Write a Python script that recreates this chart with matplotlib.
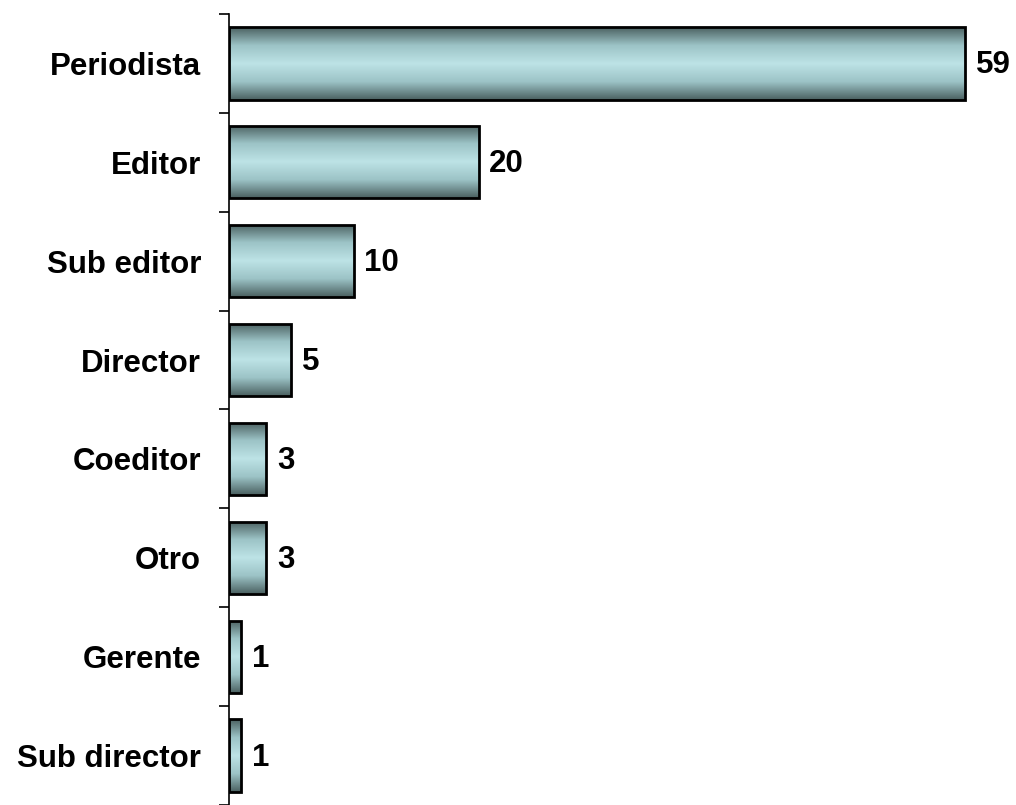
import numpy as np
import matplotlib.pyplot as plt
from matplotlib.colors import LinearSegmentedColormap
from matplotlib.patches import Rectangle

categories = ['Periodista', 'Editor', 'Sub editor', 'Director',
              'Coeditor', 'Otro', 'Gerente', 'Sub director']
values = [59, 20, 10, 5, 3, 3, 1, 1]

plt.rcParams['font.family'] = ['Liberation Sans', 'DejaVu Sans']

fig = plt.figure(figsize=(10.16, 8.05), dpi=100)
ax = fig.add_axes([229 / 1016, 0.0, 1 - 229 / 1016 - 0.013, 1 - 14 / 805])

n = len(categories)
ypos = np.arange(n)
bar_h = 0.73

# dark edge -> light middle -> dark edge
cmap = LinearSegmentedColormap.from_list(
    'shade', ['#4a6060', '#9cc3c6', '#bde3e6', '#9cc3c6', '#4a6060'])
grad = np.linspace(0, 1, 256).reshape(-1, 1)

bars = ax.barh(ypos, values, height=bar_h, color='none',
               edgecolor='black', linewidth=2, zorder=3)
for bar in bars:
    x0, y0 = bar.get_x(), bar.get_y()
    w, h = bar.get_width(), bar.get_height()
    im = ax.imshow(grad, cmap=cmap, aspect='auto',
                   extent=(x0, x0 + w, y0 + h, y0), zorder=2)
    clip = Rectangle((x0, y0), w, h, transform=ax.transData)
    im.set_clip_path(clip)

for y, v in zip(ypos, values):
    ax.text(v + 0.85, y + 0.02, str(v), va='center', ha='left',
            fontsize=22.5, fontweight='bold')

ax.set_xlim(0, 62)
ax.set_ylim(n - 0.5, -0.5)

ax.set_yticks(np.arange(-0.5, n, 1.0))
ax.set_yticklabels([])
ax.set_yticks(ypos, minor=True)
ax.set_yticklabels(categories, minor=True, fontsize=22.5, fontweight='bold')
ax.tick_params(axis='y', which='minor', length=0, pad=20)
ax.tick_params(axis='y', which='major', length=7, width=1.2, direction='out')

for side in ['top', 'right', 'bottom']:
    ax.spines[side].set_visible(False)
ax.spines['left'].set_linewidth(1.2)
ax.xaxis.set_visible(False)

fig.savefig('out.png', dpi=100)
